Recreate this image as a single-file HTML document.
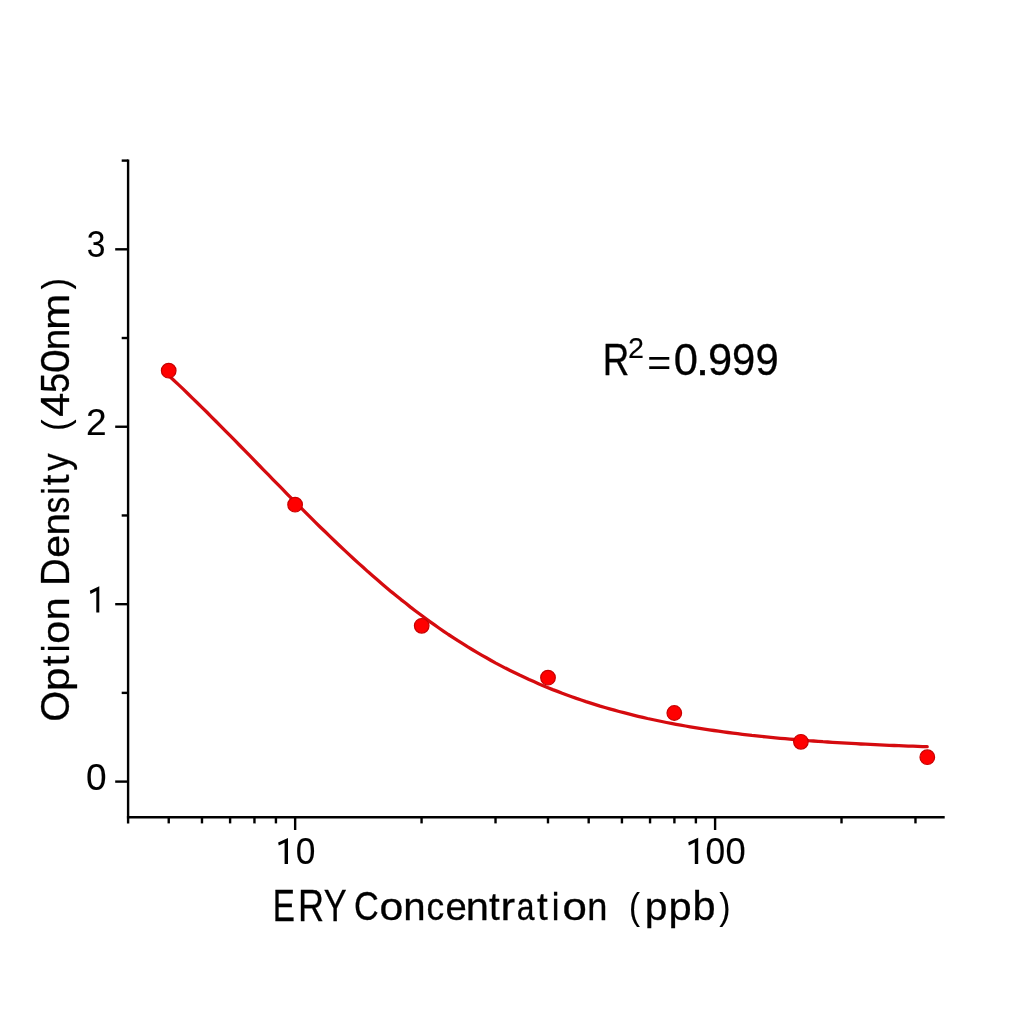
<!DOCTYPE html>
<html><head><meta charset="utf-8"><style>
html,body{margin:0;padding:0;background:#fff;}
svg{display:block;will-change:transform;}
text{font-family:"Liberation Sans", sans-serif;fill:#000;stroke:#000;stroke-width:0.3px;}
</style></head><body>
<svg width="1024" height="1024" viewBox="0 0 1024 1024">
<rect width="1024" height="1024" fill="#fff"/>
<line x1="128.1" y1="159.40" x2="128.1" y2="823.40" stroke="#000" stroke-width="2.4"/>
<line x1="126.90" y1="817.2" x2="944.7" y2="817.2" stroke="#000" stroke-width="2.4"/>
<line x1="115.2" y1="781.60" x2="128.1" y2="781.60" stroke="#000" stroke-width="2.4"/>
<line x1="115.2" y1="604.17" x2="128.1" y2="604.17" stroke="#000" stroke-width="2.4"/>
<line x1="115.2" y1="426.74" x2="128.1" y2="426.74" stroke="#000" stroke-width="2.4"/>
<line x1="115.2" y1="249.31" x2="128.1" y2="249.31" stroke="#000" stroke-width="2.4"/>
<line x1="121.7" y1="692.88" x2="128.1" y2="692.88" stroke="#000" stroke-width="2.4"/>
<line x1="121.7" y1="515.46" x2="128.1" y2="515.46" stroke="#000" stroke-width="2.4"/>
<line x1="121.7" y1="338.02" x2="128.1" y2="338.02" stroke="#000" stroke-width="2.4"/>
<line x1="121.7" y1="160.60" x2="128.1" y2="160.60" stroke="#000" stroke-width="2.4"/>
<line x1="295.15" y1="817.2" x2="295.15" y2="830" stroke="#000" stroke-width="2.4"/>
<line x1="715.10" y1="817.2" x2="715.10" y2="830" stroke="#000" stroke-width="2.4"/>
<line x1="168.73" y1="817.2" x2="168.73" y2="823.4" stroke="#000" stroke-width="2.4"/>
<line x1="201.98" y1="817.2" x2="201.98" y2="823.4" stroke="#000" stroke-width="2.4"/>
<line x1="230.10" y1="817.2" x2="230.10" y2="823.4" stroke="#000" stroke-width="2.4"/>
<line x1="254.45" y1="817.2" x2="254.45" y2="823.4" stroke="#000" stroke-width="2.4"/>
<line x1="275.93" y1="817.2" x2="275.93" y2="823.4" stroke="#000" stroke-width="2.4"/>
<line x1="421.57" y1="817.2" x2="421.57" y2="823.4" stroke="#000" stroke-width="2.4"/>
<line x1="495.52" y1="817.2" x2="495.52" y2="823.4" stroke="#000" stroke-width="2.4"/>
<line x1="547.99" y1="817.2" x2="547.99" y2="823.4" stroke="#000" stroke-width="2.4"/>
<line x1="588.68" y1="817.2" x2="588.68" y2="823.4" stroke="#000" stroke-width="2.4"/>
<line x1="621.93" y1="817.2" x2="621.93" y2="823.4" stroke="#000" stroke-width="2.4"/>
<line x1="650.05" y1="817.2" x2="650.05" y2="823.4" stroke="#000" stroke-width="2.4"/>
<line x1="674.40" y1="817.2" x2="674.40" y2="823.4" stroke="#000" stroke-width="2.4"/>
<line x1="695.88" y1="817.2" x2="695.88" y2="823.4" stroke="#000" stroke-width="2.4"/>
<line x1="841.52" y1="817.2" x2="841.52" y2="823.4" stroke="#000" stroke-width="2.4"/>
<line x1="915.47" y1="817.2" x2="915.47" y2="823.4" stroke="#000" stroke-width="2.4"/>
<polyline points="168.7,375.5 173.5,380.0 178.2,384.4 183.0,388.9 187.7,393.5 192.4,398.1 197.2,402.7 201.9,407.4 206.7,412.0 211.4,416.8 216.1,421.5 220.9,426.3 225.6,431.1 230.4,435.9 235.1,440.7 239.8,445.5 244.6,450.4 249.3,455.2 254.1,460.1 258.8,465.0 263.5,469.8 268.3,474.7 273.0,479.6 277.8,484.4 282.5,489.2 287.2,494.1 292.0,498.9 296.7,503.7 301.5,508.4 306.2,513.2 311.0,517.9 315.7,522.6 320.4,527.2 325.2,531.8 329.9,536.4 334.7,541.0 339.4,545.5 344.1,549.9 348.9,554.4 353.6,558.7 358.4,563.1 363.1,567.3 367.8,571.6 372.6,575.7 377.3,579.8 382.1,583.9 386.8,587.9 391.5,591.9 396.3,595.7 401.0,599.6 405.8,603.3 410.5,607.1 415.2,610.7 420.0,614.3 424.7,617.8 429.5,621.3 434.2,624.7 438.9,628.0 443.7,631.3 448.4,634.5 453.2,637.6 457.9,640.7 462.7,643.7 467.4,646.7 472.1,649.5 476.9,652.4 481.6,655.1 486.4,657.8 491.1,660.5 495.8,663.1 500.6,665.6 505.3,668.1 510.1,670.5 514.8,672.8 519.5,675.1 524.3,677.3 529.0,679.5 533.8,681.6 538.5,683.7 543.2,685.7 548.0,687.7 552.7,689.6 557.5,691.4 562.2,693.3 566.9,695.0 571.7,696.7 576.4,698.4 581.2,700.0 585.9,701.6 590.7,703.1 595.4,704.6 600.1,706.1 604.9,707.5 609.6,708.8 614.4,710.2 619.1,711.5 623.8,712.7 628.6,713.9 633.3,715.1 638.1,716.3 642.8,717.4 647.5,718.5 652.3,719.5 657.0,720.5 661.8,721.5 666.5,722.5 671.2,723.4 676.0,724.3 680.7,725.1 685.5,726.0 690.2,726.8 694.9,727.6 699.7,728.4 704.4,729.1 709.2,729.8 713.9,730.5 718.6,731.2 723.4,731.9 728.1,732.5 732.9,733.1 737.6,733.7 742.4,734.3 747.1,734.8 751.8,735.4 756.6,735.9 761.3,736.4 766.1,736.9 770.8,737.4 775.5,737.8 780.3,738.3 785.0,738.7 789.8,739.1 794.5,739.5 799.2,739.9 804.0,740.3 808.7,740.7 813.5,741.0 818.2,741.3 822.9,741.7 827.7,742.0 832.4,742.3 837.2,742.6 841.9,742.9 846.6,743.2 851.4,743.4 856.1,743.7 860.9,744.0 865.6,744.2 870.3,744.4 875.1,744.7 879.8,744.9 884.6,745.1 889.3,745.3 894.1,745.5 898.8,745.7 903.5,745.9 908.3,746.1 913.0,746.2 917.8,746.4 922.5,746.6 927.2,746.7" fill="none" stroke="#d50b0f" stroke-width="3.3" stroke-linejoin="round" stroke-linecap="round"/>
<circle cx="168.7" cy="370.7" r="7.3" fill="#ff0000" stroke="#c80000" stroke-width="1.2"/>
<circle cx="295.1" cy="504.7" r="7.3" fill="#ff0000" stroke="#c80000" stroke-width="1.2"/>
<circle cx="421.7" cy="625.8" r="7.3" fill="#ff0000" stroke="#c80000" stroke-width="1.2"/>
<circle cx="548" cy="677.7" r="7.3" fill="#ff0000" stroke="#c80000" stroke-width="1.2"/>
<circle cx="674.3" cy="713" r="7.3" fill="#ff0000" stroke="#c80000" stroke-width="1.2"/>
<circle cx="800.9" cy="741.8" r="7.3" fill="#ff0000" stroke="#c80000" stroke-width="1.2"/>
<circle cx="927.3" cy="757.2" r="7.3" fill="#ff0000" stroke="#c80000" stroke-width="1.2"/>
<text transform="matrix(0.37053 0 0 0.37465 86.018 790.225)" font-size="100">0</text>
<path d="M99.30,586.30 L99.30,612.60 L96.30,612.60 L96.30,591.10 L90.50,593.90 L89.80,590.70 Z" fill="#000"/>
<text transform="matrix(0.37143 0 0 0.37286 86.043 435.200)" font-size="100">2</text>
<text transform="matrix(0.33617 0 0 0.37183 86.855 257.428)" font-size="100">3</text>
<path d="M288.00,838.00 L288.00,863.90 L284.60,863.90 L284.60,842.80 L278.80,845.60 L278.10,842.40 Z" fill="#000"/>
<text transform="matrix(0.35368 0 0 0.37042 295.685 863.930)" font-size="100">0</text>
<path d="M698.20,837.80 L698.20,864.00 L694.80,864.00 L694.80,842.60 L688.90,845.40 L688.20,842.20 Z" fill="#000"/>
<text transform="matrix(0.35368 0 0 0.37324 705.585 864.027)" font-size="100">0</text>
<text transform="matrix(0.36421 0 0 0.37324 725.443 864.027)" font-size="100">0</text>
<text transform="matrix(0.74968 0 0 1.0000 272.843 920.600)" font-size="44.3">E</text>
<text transform="matrix(0.81494 0 0 1.0000 297.912 920.600)" font-size="44.3">R</text>
<text transform="matrix(0.77550 0 0 1.0000 323.741 920.600)" font-size="44.3">Y</text>
<text transform="matrix(0.84448 0 0 1.0000 353.986 920.200)" font-size="40.6">C</text>
<text transform="matrix(1.05263 0 0 0.9600 379.391 920.200)" font-size="40.6">o</text>
<text transform="matrix(0.99102 0 0 0.9600 403.285 920.200)" font-size="40.6">n</text>
<text transform="matrix(0.87066 0 0 0.9600 426.509 920.200)" font-size="40.6">c</text>
<text transform="matrix(0.94285 0 0 0.9600 445.377 920.200)" font-size="40.6">e</text>
<text transform="matrix(1.02579 0 0 0.9600 465.793 920.200)" font-size="40.6">n</text>
<text transform="matrix(0.95000 0 0 0.9600 488.904 920.200)" font-size="40.6">t</text>
<text transform="matrix(1.08000 0 0 0.9600 500.569 920.200)" font-size="40.6">r</text>
<text transform="matrix(0.78721 0 0 0.9600 516.662 920.200)" font-size="40.6">a</text>
<text transform="matrix(0.95000 0 0 0.9600 537.004 920.200)" font-size="40.6">t</text>
<text transform="matrix(0.85000 0 0 0.9600 551.854 920.200)" font-size="40.6">i</text>
<text transform="matrix(1.08000 0 0 0.9600 562.582 920.200)" font-size="40.6">o</text>
<text transform="matrix(0.89249 0 0 0.9600 587.245 920.200)" font-size="40.6">n</text>
<text transform="matrix(1.00712 0 0 0.9600 644.742 920.200)" font-size="40.6">p</text>
<text transform="matrix(1.02627 0 0 0.9600 668.542 920.200)" font-size="40.6">p</text>
<text transform="matrix(1.02354 0 0 1.0000 692.399 920.200)" font-size="40.6">b</text>
<text transform="matrix(0.33208 0 0 0.37005 629.108 918.529)" font-size="100">(</text>
<text transform="matrix(0.33846 0 0 0.37005 719.262 918.529)" font-size="100">)</text>
<text transform="translate(69.200 721.787) rotate(-90) scale(0.97803 1.0000)" font-size="40.6">O</text>
<text transform="translate(69.200 691.044) rotate(-90) scale(1.03996 0.9600)" font-size="40.6">p</text>
<text transform="translate(69.200 666.196) rotate(-90) scale(0.95000 0.9600)" font-size="40.6">t</text>
<text transform="translate(69.200 652.146) rotate(-90) scale(0.85000 0.9600)" font-size="40.6">i</text>
<text transform="translate(69.200 643.659) rotate(-90) scale(1.02152 0.9600)" font-size="40.6">o</text>
<text transform="translate(69.200 620.622) rotate(-90) scale(1.03159 0.9600)" font-size="40.6">n</text>
<text transform="translate(69.200 585.739) rotate(-90) scale(0.93555 1.0000)" font-size="40.6">D</text>
<text transform="translate(69.200 557.848) rotate(-90) scale(1.01171 0.9600)" font-size="40.6">e</text>
<text transform="translate(69.200 535.415) rotate(-90) scale(0.99102 0.9600)" font-size="40.6">n</text>
<text transform="translate(69.200 513.293) rotate(-90) scale(0.81536 0.9600)" font-size="40.6">s</text>
<text transform="translate(69.200 494.846) rotate(-90) scale(0.85000 0.9600)" font-size="40.6">i</text>
<text transform="translate(69.200 485.296) rotate(-90) scale(0.95000 0.9600)" font-size="40.6">t</text>
<text transform="translate(69.200 470.774) rotate(-90) scale(0.85956 0.9600)" font-size="40.6">y</text>
<text transform="translate(69.200 416.780) rotate(-90) scale(1.06404 1.0000)" font-size="40.6">4</text>
<text transform="translate(69.200 393.048) rotate(-90) scale(0.89188 1.0000)" font-size="40.6">5</text>
<text transform="translate(69.200 372.909) rotate(-90) scale(1.05263 1.0000)" font-size="40.6">0</text>
<text transform="translate(69.200 350.324) rotate(-90) scale(0.95624 0.9600)" font-size="40.6">n</text>
<text transform="translate(69.200 330.097) rotate(-90) scale(1.08000 0.9600)" font-size="40.6">m</text>
<text transform="matrix(0 -0.35094 0.37219 0 68.284 430.906)" font-size="100">(</text>
<text transform="matrix(0 -0.34615 0.37219 0 68.084 289.546)" font-size="100">)</text>
<text transform="matrix(0.83590 0 0 1.0000 602.658 374.800)" font-size="44.0">R</text>
<text transform="matrix(0.28791 0 0 0.29000 628.060 358.200)" font-size="100">2</text>
<text transform="matrix(0.41031 0 0 0.37813 647.148 374.728)" font-size="100">=</text>
<text transform="matrix(0.96842 0 0 1.0000 673.857 374.800)" font-size="45.0">0</text>
<text transform="matrix(1.08000 0 0 1.0000 695.817 374.800)" font-size="45.0">.</text>
<text transform="matrix(0.96535 0 0 1.0000 708.045 374.800)" font-size="45.0">9</text>
<text transform="matrix(0.92712 0 0 1.0000 732.023 374.800)" font-size="45.0">9</text>
<text transform="matrix(0.92712 0 0 1.0000 755.623 374.800)" font-size="45.0">9</text>
</svg>
</body></html>
